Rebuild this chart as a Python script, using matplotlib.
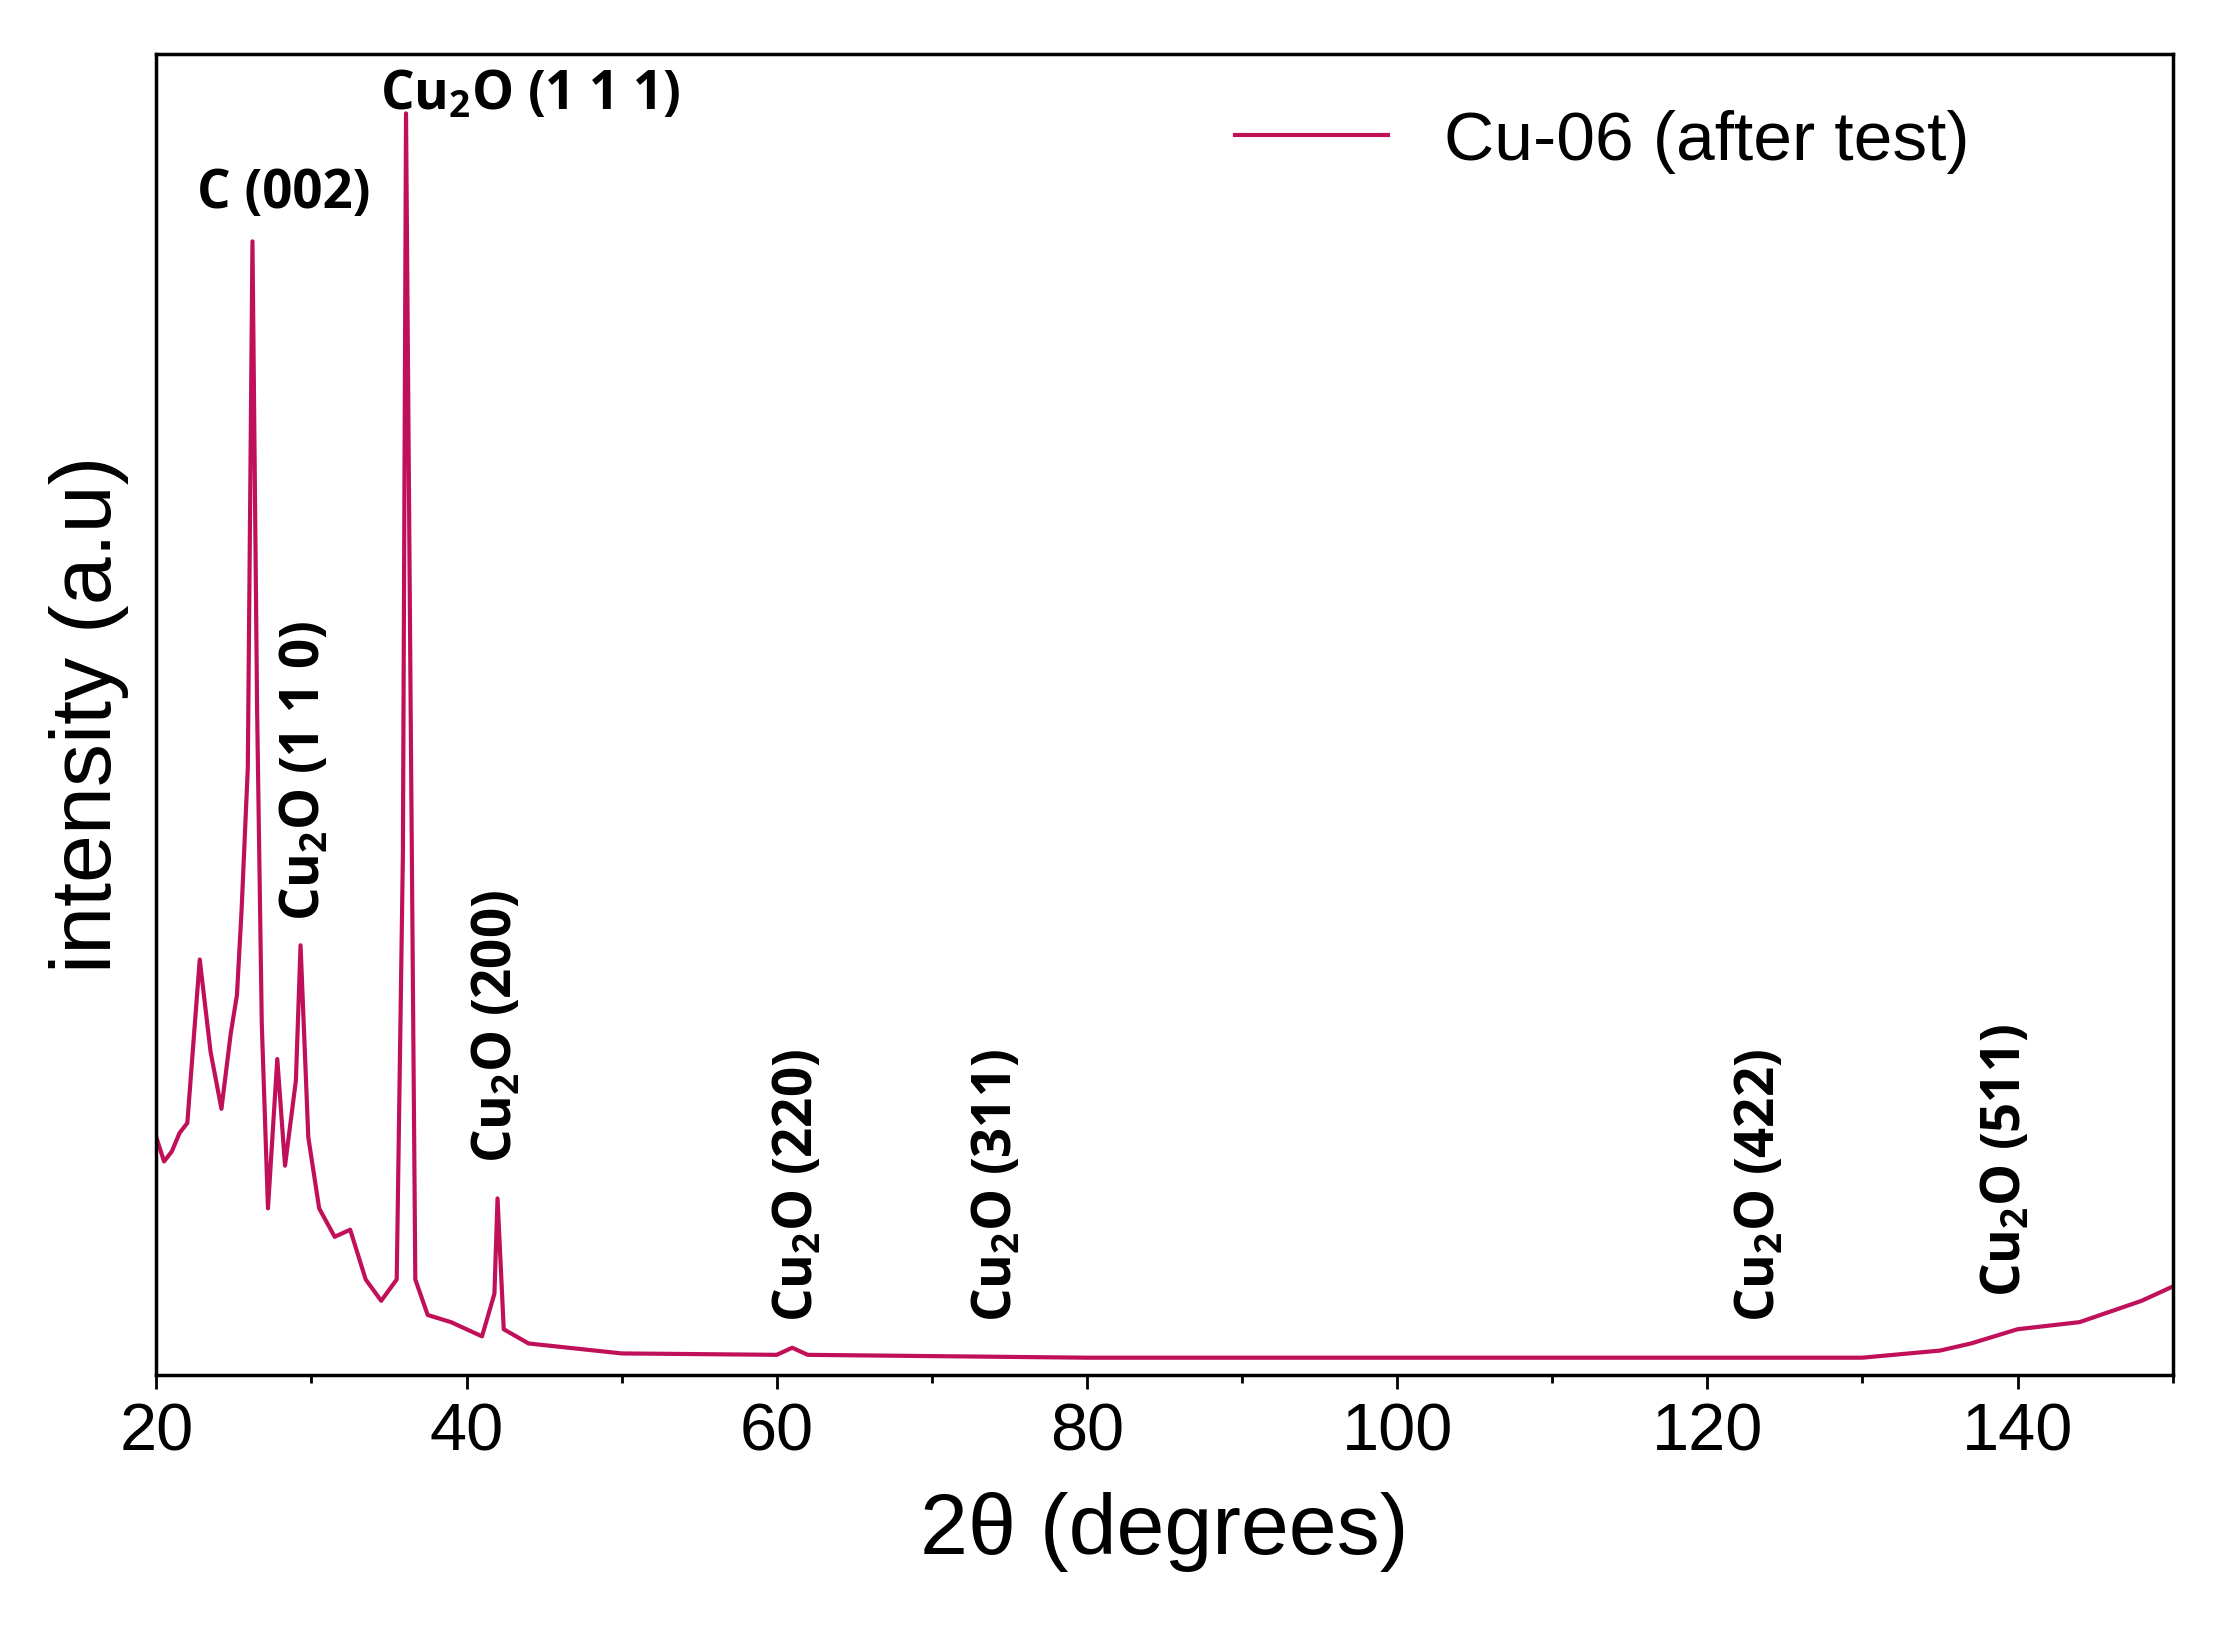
import matplotlib
matplotlib.use("Agg")
import matplotlib.pyplot as plt

two_theta = [20, 20.5, 21, 21.5, 22, 22.8, 23.5, 24.2, 24.8, 25.2, 25.5, 25.9, 26.2, 26.5, 26.8, 27.2, 27.8,
             28.3, 29.0, 29.3, 29.8, 30.5, 31.5, 32.5, 33.5, 34.5, 35.5, 35.9, 36.1, 36.4, 36.7, 37.5,
             39, 41, 41.8, 42.0, 42.4, 44, 50, 60, 61, 62, 80, 120, 130, 135, 137, 140, 144, 148, 150]
intensity = [167, 150, 157, 170, 177, 292, 227, 187, 240, 267, 327, 427, 797, 467, 247, 117, 222,
             147, 207, 302, 167, 117, 97, 102, 67, 52, 67, 367, 887, 467, 67, 42,
             37, 27, 57, 124, 32, 22, 15, 14, 19, 14, 12, 12, 12, 17, 22, 32, 37, 52, 62]

peak_labels = ["C (002)", r"$\mathbf{Cu_2O}$ (1 1 1)", r"$\mathbf{Cu_2O}$ (1 1 0)", r"$\mathbf{Cu_2O}$ (200)",
               r"$\mathbf{Cu_2O}$ (220)", r"$\mathbf{Cu_2O}$ (311)", r"$\mathbf{Cu_2O}$ (422)", r"$\mathbf{Cu_2O}$ (511)"]
peak_x = [28.2, 44.1, 29.6, 42.0, 61.4, 74.2, 123.4, 139.3]
peak_y = [830, 900, 319, 149, 37, 37, 37, 55]
peak_rot = [0, 0, 90, 90, 90, 90, 90, 90]

color = "#C0105A"
plt.rcParams['mathtext.fontset'] = 'custom'
plt.rcParams['mathtext.bf'] = 'Open Sans:bold'
plt.rcParams['mathtext.rm'] = 'Open Sans'

fig = plt.figure(figsize=(22.17, 16.25), dpi=100)
ax = fig.add_axes([0.0705, 0.154, 0.9145 - 0.005, 0.813])
ax.plot(two_theta, intensity, color=color, lw=3, label="Cu-06 (after test)")
ax.set_xlim(20, 150)
ax.set_ylim(0, 929)
ax.set_yticks([])
ax.set_xticks(range(20, 151, 20))
ax.set_xticks(range(30, 151, 20), minor=True)
ax.tick_params(axis='x', which='major', length=10, width=2, labelsize=48, pad=10)
ax.tick_params(axis='x', which='minor', length=6, width=2)
for lab in ax.get_xticklabels():
    lab.set_family('Liberation Sans')
for s in ax.spines.values():
    s.set_linewidth(2.5)
ax.set_xlabel("2θ (degrees)", fontsize=62, family='Liberation Sans', labelpad=20)
ax.set_ylabel("intensity (a.u)", fontsize=62, family='Liberation Sans', labelpad=20)

for t, x, y, r in zip(peak_labels, peak_x, peak_y, peak_rot):
    ax.text(x, y, t, rotation=r, ha='center', va='bottom' if r else 'center',
            fontsize=38, fontweight='bold', family='Open Sans')

leg = ax.legend(loc='upper right', bbox_to_anchor=(0.93, 1.005), frameon=False,
                handlelength=2.2, prop={'family': 'Liberation Sans', 'size': 50})
fig.savefig("out.png", dpi=100)
